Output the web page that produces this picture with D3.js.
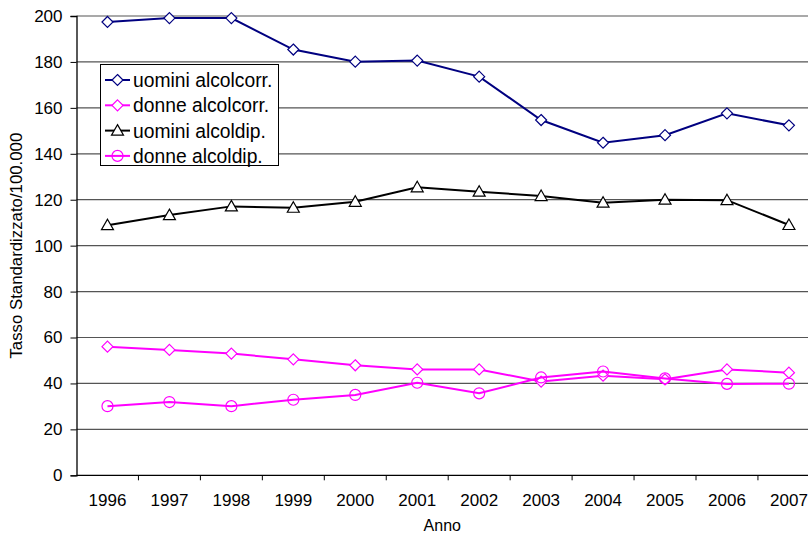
<!DOCTYPE html>
<html><head><meta charset="utf-8">
<script src="https://cdn.jsdelivr.net/npm/d3@7"></script>
<style>body{margin:0;background:#fff}svg{display:block}text{font-family:Arial,"Liberation Sans",sans-serif;fill:#000}</style>
</head><body>
<svg id="c" width="808" height="535"></svg>
<script>
const years = ["1996","1997","1998","1999","2000","2001","2002","2003","2004","2005","2006","2007"];
const uominiAlcolcorr = [197.4,199.1,199.1,185.4,180.1,180.6,173.6,154.7,144.8,148.1,157.6,152.4];
const donneAlcolcorr = [56.0,54.6,53.0,50.5,47.9,46.1,46.1,40.8,43.4,41.8,46.1,44.7];
const uominiAlcoldip = [108.9,113.3,117.1,116.5,119.1,125.4,123.5,121.6,118.7,120.0,119.8,109.0];
const donneAlcoldip = [30.1,31.9,30.1,32.9,35.0,40.3,35.7,42.6,45.2,42.2,39.8,39.9];
const yTicks = [0,20,40,60,80,100,120,140,160,180,200];
const seriesNames = ["uomini alcolcorr.","donne alcolcorr.","uomini alcoldip.","donne alcoldip."];

const series = [
  {name: seriesNames[0], values: uominiAlcolcorr, color: "#000080", marker: "diamond"},
  {name: seriesNames[1], values: donneAlcolcorr, color: "#FF00FF", marker: "diamond"},
  {name: seriesNames[2], values: uominiAlcoldip, color: "#000000", marker: "triangle"},
  {name: seriesNames[3], values: donneAlcoldip, color: "#FF00FF", marker: "circle"}
];

const svg = d3.select("#c");
const mLeft = 76.5, mTop = 16, mBottom = 475.3, bandW = 61.95;
const W = 808;
const x = d3.scaleBand().domain(years).range([mLeft, mLeft + bandW * years.length]);
const y = d3.scaleLinear().domain([0, 200]).range([mBottom, mTop]);
const FF = "Arial, 'Liberation Sans', sans-serif";

// gridlines
svg.append("g").selectAll("line").data(yTicks.filter(d => d > 0)).join("line")
  .attr("x1", mLeft).attr("x2", W).attr("y1", d => y(d)).attr("y2", d => y(d))
  .attr("stroke", "#555").attr("stroke-width", 1.2);

// y axis
const ya = svg.append("g").attr("transform", `translate(${mLeft},0)`)
  .call(d3.axisLeft(y).tickValues(yTicks).tickSize(6).tickPadding(8));
ya.select(".domain").attr("stroke", "#000").attr("stroke-width", 1.3);
ya.selectAll(".tick line").attr("stroke", "#000");
ya.selectAll("text").style("font-size", "17px").attr("font-family", FF);

// x axis
const xa = svg.append("g").attr("transform", `translate(0,${mBottom})`)
  .call(d3.axisBottom(x).tickSize(0).tickPadding(19));
xa.select(".domain").remove();
xa.append("line").attr("x1", mLeft).attr("x2", W).attr("stroke", "#000").attr("stroke-width", 1.3);
xa.selectAll(".tk").data(years.slice(1)).join("line").attr("class","tk")
  .attr("x1", d => x(d)).attr("x2", d => x(d)).attr("y1", 0).attr("y2", 5).attr("stroke", "#000");
xa.selectAll("text").style("font-size", "17px").attr("font-family", FF);

// axis titles
svg.append("text").attr("x", (mLeft + W) / 2).attr("y", 531).attr("text-anchor", "middle")
  .style("font-size", "16px").text("Anno");
svg.append("text").attr("transform", `translate(22,${(mTop + mBottom) / 2}) rotate(-90)`)
  .attr("text-anchor", "middle").style("font-size", "16.8px").text("Tasso Standardizzato/100.000");

function drawMarker(g, type, color) {
  if (type === "diamond") {
    g.append("path").attr("d", "M0,-5.5L5.5,0L0,5.5L-5.5,0Z").attr("fill", "#fff").attr("stroke", color).attr("stroke-width", 1.2);
  } else if (type === "triangle") {
    g.append("path").attr("d", "M0,-6L6,4.5L-6,4.5Z").attr("fill", "#fff").attr("stroke", color).attr("stroke-width", 1.2);
  } else {
    g.append("circle").attr("r", 5.5).attr("fill", "none").attr("stroke", color).attr("stroke-width", 1.2);
  }
}

const line = d3.line().x((d, i) => x(years[i]) + x.bandwidth() / 2).y(d => y(d));
series.forEach(s => {
  svg.append("path").datum(s.values).attr("d", line).attr("fill", "none")
    .attr("stroke", s.color).attr("stroke-width", 2);
  s.values.forEach((v, i) => {
    const g = svg.append("g").attr("transform", `translate(${x(years[i]) + x.bandwidth() / 2},${y(v)})`);
    drawMarker(g, s.marker, s.color);
  });
});

// legend
const lg = svg.append("g");
lg.append("rect").attr("x", 100.5).attr("y", 64.5).attr("width", 178).attr("height", 101)
  .attr("fill", "#fff").attr("stroke", "#000").attr("stroke-width", 1);
series.forEach((s, i) => {
  const cy = 80 + i * 25.3;
  lg.append("line").attr("x1", 105).attr("x2", 130).attr("y1", cy).attr("y2", cy)
    .attr("stroke", s.color).attr("stroke-width", 2);
  drawMarker(lg.append("g").attr("transform", `translate(117.5,${cy})`), s.marker, s.color);
  lg.append("text").attr("x", 133).attr("y", cy).attr("dy", "0.36em").style("font-size", "19.3px").text(s.name);
});
</script>
</body></html>
